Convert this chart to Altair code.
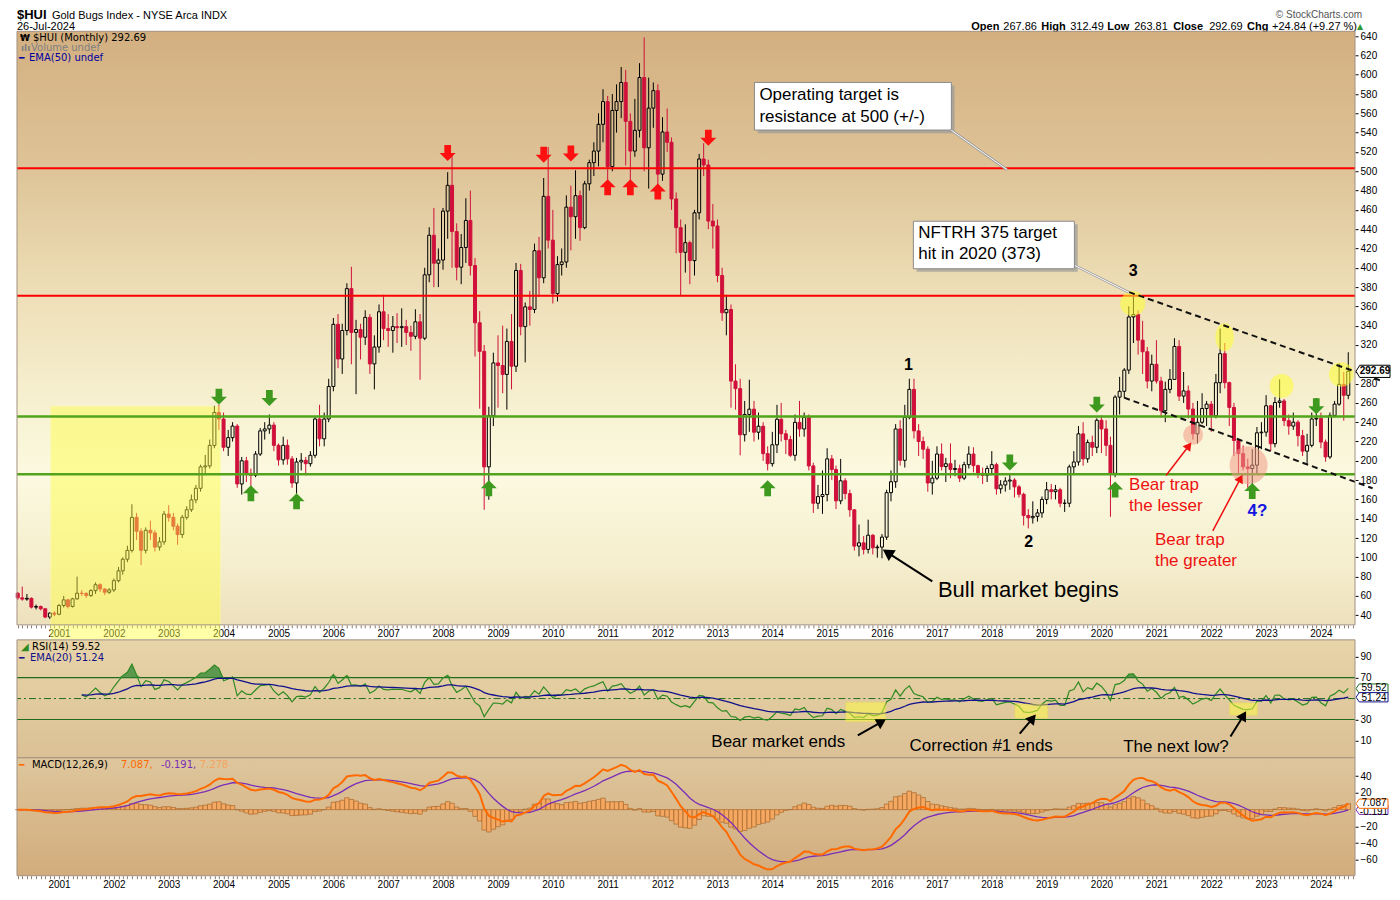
import math
import altair as alt
import numpy as np
import pandas as pd

# ---------------- monthly $HUI candles, Apr 2000 - Jul 2024 ----------------
closes = [
    58.0, 56.7, 57.5, 48.4, 49.0, 46.7, 38.1, 42.2, 41.0,                                   # 2000 Apr-Dec
    50.1, 55.9, 49.1, 57.0, 62.8, 62.5, 60.4, 65.5, 71.6, 67.2, 63.8, 66.2,                 # 2001
    75.8, 86.0, 98.0, 107.2, 141.4, 127.0, 107.2, 128.0, 125.3, 110.6, 116.0, 144.8,        # 2002
    141.4, 132.2, 123.6, 141.4, 149.3, 159.5, 171.5, 193.7, 194.7, 215.9, 250.1, 243.3,     # 2003
    214.0, 224.0, 236.0, 176.0, 200.0, 187.0, 185.0, 207.0, 231.0, 233.0, 237.0, 216.0,     # 2004
    201.0, 216.0, 202.0, 177.0, 198.8, 200.5, 197.0, 205.7, 243.3, 222.8, 243.3, 277.0,     # 2005
    341.4, 305.5, 335.0, 378.4, 333.0, 336.0, 328.0, 348.6, 300.4, 317.9, 354.4, 337.0,     # 2006
    335.0, 339.0, 338.0, 339.0, 333.0, 329.0, 344.0, 327.0, 392.7, 433.7, 404.7, 408.0,     # 2007
    458.7, 485.4, 437.5, 400.6, 421.0, 449.0, 402.3, 343.0, 313.4, 193.7, 246.7, 301.4,     # 2008
    298.7, 289.5, 323.7, 298.0, 397.2, 339.0, 359.5, 356.8, 417.7, 389.6, 474.0, 428.6,     # 2009
    373.2, 403.3, 406.0, 462.8, 452.9, 474.7, 441.6, 487.0, 508.9, 520.9, 548.6, 572.2,     # 2010
    504.8, 563.0, 572.2, 592.0, 551.7, 520.9, 542.4, 597.1, 524.3, 565.4, 583.5, 497.0,     # 2011
    540.7, 530.0, 471.3, 441.6, 416.0, 426.0, 407.4, 457.0, 512.7, 506.5, 448.4, 443.3,     # 2012
    392.0, 353.4, 356.8, 282.6, 274.8, 227.0, 248.0, 253.5, 229.6, 235.8, 207.4, 197.0,     # 2013
    216.6, 243.0, 228.0, 222.0, 205.7, 239.8, 233.0, 245.0, 194.7, 156.0, 162.9, 165.0,     # 2014
    202.0, 191.0, 158.5, 179.3, 166.0, 149.2, 111.6, 115.0, 108.2, 122.9, 109.9, 110.6,     # 2015
    120.9, 167.0, 178.3, 233.0, 200.5, 245.0, 274.0, 231.0, 220.0, 212.0, 177.0, 182.0,     # 2016
    207.0, 194.0, 197.0, 191.0, 192.0, 182.0, 196.0, 207.0, 195.0, 187.0, 185.0, 192.0,     # 2017
    196.0, 171.0, 175.0, 179.0, 180.0, 173.0, 165.3, 143.4, 141.0, 142.4, 146.0, 160.0,     # 2018
    170.0, 168.0, 170.0, 156.0, 156.0, 193.7, 198.8, 227.9, 202.0, 219.0, 214.0, 242.0,     # 2019
    233.0, 216.0, 187.0, 266.0, 272.0, 294.0, 349.0, 351.6, 325.0, 313.0, 282.6, 300.0,     # 2020
    282.6, 251.9, 274.0, 284.3, 318.5, 267.0, 272.4, 253.6, 227.9, 239.9, 254.2, 258.7,     # 2021
    246.7, 280.9, 311.0, 281.0, 255.3, 221.0, 207.4, 193.7, 192.0, 195.5, 229.0, 229.7,     # 2022
    257.0, 217.7, 260.4, 262.0, 241.6, 236.0, 240.0, 226.0, 210.0, 216.0, 243.3, 244.0,     # 2023
    219.4, 204.0, 247.0, 258.7, 279.2, 267.85, 292.69,                                      # 2024 Jan-Jul
]
highs = [
    64, 69.6, 62, 58.5, 51, 50, 47.5, 43, 44,
    51.5, 60, 57, 58, 80, 66, 64, 67, 74, 73, 68, 68,
    78, 90, 100, 112, 155, 146, 130, 131, 138, 128, 121, 148,
    154, 146, 135, 144, 153, 165, 175, 196, 206, 222, 257, 258,
    250, 232, 240, 238, 204, 204, 192, 210, 234, 240, 248, 240,
    218, 225, 222, 205, 203, 208, 204, 210, 246, 258, 250, 285,
    348, 352, 342, 384, 401, 346, 342, 356, 352, 330, 362, 372,
    352, 350, 353, 358, 346, 340, 357, 352, 400, 442, 462, 420,
    462, 499, 517, 446, 435, 472, 480, 410, 355, 320, 256, 312,
    330, 340, 337, 352, 405, 404, 364, 376, 425, 432, 493, 525,
    460, 412, 420, 475, 485, 501, 480, 490, 512, 530, 560, 585,
    578, 580, 590, 608, 605, 560, 575, 612, 638.6, 597, 592, 590,
    556, 565, 535, 478, 450, 445, 428, 460, 518, 529, 512, 466,
    450, 400, 372, 362, 300, 285, 262, 284, 262, 250, 240, 215,
    230, 258, 260, 232, 226, 248, 262, 250, 248, 198, 175, 190,
    213, 206, 195, 202, 182, 170, 150, 134, 122, 139, 124, 113,
    124, 170, 190, 238, 242, 258, 285, 285, 238, 225, 215, 200,
    215, 218, 203, 218, 201, 196, 199, 215, 214, 196, 193, 195,
    210, 198, 180, 183, 186, 182, 175, 167, 150, 158, 150, 163,
    178, 176, 175, 172, 160, 196, 210, 236, 240, 222, 226, 244,
    247, 242, 225, 268, 287, 296, 360, 373, 356, 345, 318, 310,
    325, 287, 282, 295, 327, 325, 292, 278, 260, 262, 270, 262,
    262, 290, 337, 322, 282, 260, 222, 216, 202, 212, 235, 240,
    268, 258, 266, 284.3, 264, 248, 250, 242, 232, 228, 250, 265,
    250, 222, 250, 262, 301, 292, 312.49,
]
lows = [
    56, 55, 55, 47, 46, 45, 37, 36, 39,
    40, 48, 47, 48, 56, 60, 58, 59, 62, 64, 61, 62,
    64, 74, 82, 95, 105, 118, 92, 104, 118, 106, 107, 113,
    137, 128, 113, 120, 139, 147, 156, 168, 185, 192, 213, 232,
    210, 205, 220, 172, 165, 178, 172, 183, 205, 222, 228, 210,
    195, 196, 196, 172, 166, 190, 185, 194, 203, 215, 215, 240,
    272, 296, 290, 330, 300, 269, 305, 320, 290, 274, 312, 325,
    318, 312, 322, 318, 320, 314, 326, 284, 325, 385, 380, 380,
    398, 430, 400, 387, 383, 405, 392, 308, 254, 149.3, 159.6, 236,
    255, 270, 253, 274, 292, 330, 302, 340, 353, 370, 384, 420,
    363, 365, 392, 400, 418, 430, 428, 440, 480, 495, 505, 530,
    491, 500, 540, 555, 506, 489, 515, 535, 500, 482, 545, 480,
    490, 520, 460, 415, 371, 395, 383, 392, 450, 495, 440, 420,
    385, 345, 330, 255, 253, 205.7, 220, 230, 220, 222, 200, 190,
    194, 208, 220, 207, 204, 200, 225, 225, 190, 146, 150, 145,
    158, 180, 150, 155, 160, 142, 107, 101, 103, 104, 103, 99.6,
    99, 118, 158, 172, 195, 193, 243, 223, 205, 202, 168, 165,
    180, 190, 178, 182, 184, 178, 180, 192, 188, 182, 176, 178,
    185, 165, 166, 168, 170, 162, 162, 133, 130, 135, 137, 141,
    155, 160, 160, 152, 147, 152, 186, 195, 195, 198, 205, 208,
    208, 205, 142, 183, 248, 265, 290, 322, 310, 290, 275, 272,
    280, 245, 240, 270, 284, 262, 260, 244, 222, 218, 238, 236,
    230, 244, 270, 275, 236, 205, 186, 190, 172, 176, 186, 212,
    225, 210, 214, 255, 236, 227, 232, 215, 205, 197, 214, 236,
    213, 199, 202, 245, 257, 241.6, 263.81,
]
first_open = 62.8
last_open = 267.86
assert len(closes) == len(highs) == len(lows) == 292

# header / legend values
hdr_open, hdr_high, hdr_low, hdr_close = "267.86", "312.49", "263.81", "292.69"
hdr_chg = "+24.84 (+9.27 %)"
rsi_last, rsi_ema_last = "59.52", "51.24"
macd_last, signal_last, hist_last = "7.087", "-0.191", "7.278"

# horizontal levels
resistance_levels = [503, 371]
support_levels = [246, 186]

# marker arrows (month, price)
green_down = [("2003-12-01", 266.3), ("2004-11-01", 265.0), ("2018-05-01", 198.3),
              ("2019-12-01", 258.2), ("2023-12-01", 256.6)]
green_up = [("2004-07-01", 166.3), ("2005-05-01", 158.0), ("2008-11-01", 171.5),
            ("2013-12-01", 171.5), ("2020-04-01", 170.2), ("2022-10-01", 168.6)]
red_down = [("2008-02-01", 519.0), ("2009-11-01", 517.0), ("2010-05-01", 518.5), ("2012-11-01", 534.8)]
red_up = [("2011-01-01", 483.3), ("2011-06-01", 483.3), ("2011-12-01", 479.0)]

# ---------------- helpers ----------------
def ydate(y):
    yr = int(math.floor(y))
    d = pd.Timestamp(year=yr, month=1, day=1) + pd.Timedelta(days=(y - yr) * 365.25)
    return d.strftime("%Y-%m-%d")

W, HM, HR, HD = 1339, 594, 118, 118
RED = "#D0103A"
FONT = "Liberation Sans"
one = pd.DataFrame({"k": [0]})

months = pd.date_range("2000-04-01", periods=len(closes), freq="MS").strftime("%Y-%m-%d")
opens = [first_open] + closes[:-1]
opens[-1] = last_open
cdf = pd.DataFrame({"date": months, "open": opens, "high": highs, "low": lows, "close": closes})
cdf["top"] = cdf[["open", "close"]].max(axis=1)
cdf["bot"] = cdf[["open", "close"]].min(axis=1)
cdf["up"] = cdf["close"] >= cdf["open"]

# indicators computed from the closes
c = pd.Series(closes, dtype=float)
delta = c.diff()
gain = delta.clip(lower=0)
loss = (-delta).clip(lower=0)
n = 14
ag = [np.nan] * len(c)
al = [np.nan] * len(c)
ag[n] = gain[1:n + 1].mean()
al[n] = loss[1:n + 1].mean()
for i in range(n + 1, len(c)):
    ag[i] = (ag[i - 1] * (n - 1) + gain[i]) / n
    al[i] = (al[i - 1] * (n - 1) + loss[i]) / n
rsi = 100 - 100 / (1 + np.array(ag) / np.array(al))
rsi_ema = pd.Series(rsi).ewm(span=20, adjust=False).mean()
ema12 = c.ewm(span=12, adjust=False).mean()
ema26 = c.ewm(span=26, adjust=False).mean()
macd = ema12 - ema26
signal = macd.ewm(span=9, adjust=False).mean()
hist = macd - signal
ind = pd.DataFrame({"date": months, "rsi": rsi, "rsi_ema": rsi_ema.values,
                    "macd": macd.values, "signal": signal.values, "hist": hist.values})
rsi_df = ind.dropna(subset=["rsi"]).reset_index(drop=True)

def grad(stops):
    return alt.LinearGradient(gradient="linear",
                              stops=[alt.GradientStop(color=col, offset=o) for o, col in stops],
                              x1=0, x2=0, y1=0, y2=1)

xs = alt.Scale(type="utc", nice=False, padding=0,
               domain=[alt.DateTime(year=2000, month=3, date=27, utc=True),
                       alt.DateTime(year=2024, month=8, date=15, utc=True)])
x_axis = alt.Axis(title=None, grid=False, domain=False, ticks=True, tickSize=3, tickColor="#8c7c6c",
                  tickCount={"interval": "month", "step": 1},
                  labelExpr="utcFormat(datum.value, '%m') == '01' ? utcFormat(datum.value, '%Y') : ''",
                  labelFont=FONT, labelFontSize=10, labelColor="#000000", labelPadding=1,
                  labelOverlap=False, labelFlush=False, labelBound=False)

def XM(f):
    return alt.X(f, type="temporal", scale=xs, axis=x_axis)

def XN(f):
    return alt.X(f, type="temporal", scale=xs, axis=None)

ys_main = alt.Scale(domain=[30, 645], nice=False, zero=False, padding=0)
y_axis_main = alt.Axis(title=None, orient="right", values=[v for v in range(40, 641, 20) if v != 300],
                       grid=False, domain=False, tickSize=3, tickColor="#000000", labelFont=FONT,
                       labelFontSize=10, labelColor="#000000", labelPadding=2)

def YM(f):
    return alt.Y(f, type="quantitative", scale=ys_main, axis=y_axis_main)

DOWN = "M-0.42,-1 L0.42,-1 L0.42,0 L1,0 L0,1 L-1,0 L-0.42,0 Z"
UP = "M-0.42,1 L0.42,1 L0.42,0 L1,0 L0,-1 L-1,0 L-0.42,0 Z"
TAG = "M-1,0 L-0.78,-0.36 L1,-0.36 L1,0.36 L-0.78,0.36 Z"
TAG_S = "M-1,0 L-0.8,-0.29 L1,-0.29 L1,0.29 L-0.8,0.29 Z"
ELLIPSE = "M0,-1 A0.66,1 0 1,1 0,1 A0.66,1 0 1,1 0,-1 Z"

def ptxt(txt, x, y, size=10, color="#000000", weight="normal", align="left", font=FONT):
    return alt.Chart(one).mark_text(text=txt, font=font, fontSize=size, color=color, fontWeight=weight,
                                    align=align, baseline="middle").encode(x=alt.value(x), y=alt.value(y))

def arrow_layers(pts, x_fn, y_fn, color, width, head):
    d = pd.DataFrame(pts, columns=["x0", "y0", "x1", "y1", "ang"])
    d["x0"] = d["x0"].map(ydate)
    d["x1"] = d["x1"].map(ydate)
    line = alt.Chart(d).mark_rule(color=color, strokeWidth=width).encode(
        x=x_fn("x0"), x2="x1", y=y_fn("y0"), y2="y1")
    tip = alt.Chart(d).mark_point(shape="triangle-up", filled=True, color=color, size=head, opacity=1).encode(
        x=x_fn("x1"), y=y_fn("y1"), angle=alt.Angle("ang:Q", scale=None))
    return [line, tip]

# ---------------- main price panel ----------------
L = []
L.append(alt.Chart(one).mark_rect(color=grad([(0, "#D3AF80"), (0.235, "#DEC498"), (0.447, "#EEDFB8"),
                                               (0.653, "#F8F3D4"), (0.75, "#FBF9E0"), (0.887, "#F6EFCF"),
                                               (1, "#EDE0BC")]), strokeWidth=0).encode(
    x=alt.value(0), x2=alt.value(W), y=alt.value(0), y2=alt.value(HM)))

wick_col = alt.condition("datum.up", alt.value("#000000"), alt.value(RED))
base = alt.Chart(cdf)
L.append(base.mark_rule(strokeWidth=1).encode(x=XM("date"), y=YM("top"), y2="high", color=wick_col))
L.append(base.mark_rule(strokeWidth=1).encode(x=XM("date"), y=YM("low"), y2="bot", color=wick_col))
L.append(base.mark_bar(width=3, strokeWidth=1).encode(
    x=XM("date"), y=YM("open"), y2="close",
    fill=alt.condition("datum.up", alt.value("transparent"), alt.value(RED)),
    stroke=alt.condition("datum.up", alt.value("#000000"), alt.value(RED))))

# yellow 2001-2003 box
ybox = pd.DataFrame({"x0": [ydate(2000.85)], "x1": [ydate(2003.947)], "p0": [256.6], "p1": [14.8]})
L.append(alt.Chart(ybox).mark_rect(color="#FFFF40", opacity=0.45, stroke="#FFFF90", strokeWidth=1).encode(
    x=XM("x0"), x2="x1", y=YM("p0"), y2="p1"))

# horizontal levels
L.append(alt.Chart(pd.DataFrame({"p": resistance_levels})).mark_rule(color="#FF0000", strokeWidth=2).encode(y=YM("p")))
L.append(alt.Chart(pd.DataFrame({"p": support_levels})).mark_rule(color="#52A41C", strokeWidth=2.5).encode(y=YM("p")))

# highlight circles
circ = pd.DataFrame({"d": [ydate(2020.571), ydate(2023.283), ydate(2024.370)], "p": [363, 277.5, 289.4],
                     "s": [625, 576, 600]})
L.append(alt.Chart(circ).mark_point(shape="circle", filled=True, color="#FFFF30", opacity=0.55).encode(
    x=XM("d"), y=YM("p"), size=alt.Size("s:Q", scale=None)))
L.append(alt.Chart(pd.DataFrame({"d": [ydate(2022.245)], "p": [328]})).mark_point(
    shape=ELLIPSE, filled=True, color="#FFFF30", opacity=0.55, size=784).encode(x=XM("d"), y=YM("p")))
pink = pd.DataFrame({"d": [ydate(2021.670), ydate(2022.679)], "p": [227, 195.4], "s": [400, 1444]})
L.append(alt.Chart(pink).mark_point(shape="circle", filled=True, color="#F29A86", opacity=0.55).encode(
    x=XM("d"), y=YM("p"), size=alt.Size("s:Q", scale=None)))

# dashed trend channel
tl = pd.DataFrame({"x0": [ydate(2020.505), ydate(2020.415)], "x1": [ydate(2025.125), ydate(2024.944)],
                   "p0": [374.8, 265.4], "p1": [282.5, 171.5]})
L.append(alt.Chart(tl).mark_rule(color="#111111", strokeWidth=2, strokeDash=[6, 4]).encode(
    x=XM("x0"), x2="x1", y=YM("p0"), y2="p1"))

# arrows
for pts, shp, col in [(green_down, DOWN, "#3E9A1E"), (green_up, UP, "#3E9A1E"),
                      (red_down, DOWN, "#FF1010"), (red_up, UP, "#FF1010")]:
    d = pd.DataFrame(pts, columns=["d", "p"])
    L.append(alt.Chart(d).mark_point(shape=shp, filled=True, color=col, opacity=1, size=256).encode(
        x=XM("d"), y=YM("p")))

# callout boxes
boxes = [(2013.676, 2017.263, 592.0, 542.7), (2016.574, 2019.509, 448.2, 399.0)]
for (x0, x1, p0, p1) in boxes:
    sh = pd.DataFrame({"x0": [ydate(x0 + 0.06)], "x1": [ydate(x1 + 0.06)], "p0": [p0 - 3.2], "p1": [p1 - 3.2]})
    L.append(alt.Chart(sh).mark_rect(color="#9A9A9A", opacity=0.7).encode(x=XM("x0"), x2="x1", y=YM("p0"), y2="p1"))
for (x0, y0, x1, y1) in [(2017.154, 546.8, 2018.277, 501.7), (2019.415, 405.2, 2020.502, 374.4)]:
    pl = pd.DataFrame({"x0": [ydate(x0)], "x1": [ydate(x1)], "p0": [y0], "p1": [y1]})
    L.append(alt.Chart(pl).mark_rule(color="#9A9A9A", strokeWidth=2.5).encode(x=XM("x0"), x2="x1", y=YM("p0"), y2="p1"))
    L.append(alt.Chart(pl).mark_rule(color="#FFFFFF", strokeWidth=1).encode(x=XM("x0"), x2="x1", y=YM("p0"), y2="p1"))
for (x0, x1, p0, p1) in boxes:
    bx = pd.DataFrame({"x0": [ydate(x0)], "x1": [ydate(x1)], "p0": [p0], "p1": [p1]})
    L.append(alt.Chart(bx).mark_rect(fill="#FFFFFF", stroke="#8A8A8A", strokeWidth=1).encode(
        x=XM("x0"), x2="x1", y=YM("p0"), y2="p1"))

box_text = pd.DataFrame({
    "d": [ydate(2013.766), ydate(2013.766), ydate(2016.665), ydate(2016.665)],
    "p": [578.6, 556.0, 436.0, 414.4],
    "t": ["Operating target is", "resistance at 500 (+/-)", "NFTRH 375 target", "hit in 2020 (373)"]})
L.append(alt.Chart(box_text).mark_text(font=FONT, fontSize=17, align="left", baseline="middle", color="#000000").encode(
    x=XM("d"), y=YM("p"), text="t:N"))

wave = pd.DataFrame({"d": [ydate(2020.578), ydate(2016.484), ydate(2018.676)], "p": [397, 299.5, 116],
                     "t": ["3", "1", "2"]})
L.append(alt.Chart(wave).mark_text(font=FONT, fontSize=16, fontWeight="bold", color="#000000").encode(
    x=XM("d"), y=YM("p"), text="t:N"))

L.append(alt.Chart(pd.DataFrame({"d": [ydate(2018.667)], "p": [66.3], "t": ["Bull market begins"]})).mark_text(
    font=FONT, fontSize=22, color="#000000").encode(x=XM("d"), y=YM("p"), text="t:N"))
L += arrow_layers([(2016.918, 75.1, 2016.103, 104.9, 303)], XM, YM, "#000000", 2, 170)

red_text = pd.DataFrame({"d": [ydate(2020.505), ydate(2020.505), ydate(2020.976), ydate(2020.976)],
                         "p": [174.6, 153.0, 118.2, 96.6],
                         "t": ["Bear trap", "the lesser", "Bear trap", "the greater"]})
L.append(alt.Chart(red_text).mark_text(font=FONT, fontSize=17, align="left", color="#EE1111").encode(
    x=XM("d"), y=YM("p"), text="t:N"))
L += arrow_layers([(2021.176, 184.8, 2021.592, 215.6, 37), (2022.029, 127.4, 2022.536, 181.7, 28)],
                  XM, YM, "#EE1111", 1.5, 90)
L.append(alt.Chart(pd.DataFrame({"d": [ydate(2022.842)], "p": [147.9], "t": ["4?"]})).mark_text(
    font=FONT, fontSize=17, fontWeight="bold", color="#1515E0").encode(x=XM("d"), y=YM("p"), text="t:N"))

# legend + header + price tag
L.append(ptxt("\u20a9", 3, 7, size=9, weight="bold", font="DejaVu Sans"))
L.append(ptxt("$HUI (Monthly) " + hdr_close, 16, 7, size=10, font="DejaVu Sans"))
L.append(ptxt("\u0131l\u0131", 4, 17, size=9, color="#808080", weight="bold", font="DejaVu Sans"))
L.append(ptxt("Volume undef", 14, 17, size=10, color="#808080", font="DejaVu Sans"))
L.append(ptxt("\u2501", 2, 27, size=9, color="#0000A0", font="DejaVu Sans"))
L.append(ptxt("EMA(50) undef", 12, 27, size=10, color="#0000A0", font="DejaVu Sans"))

L.append(ptxt("$HUI", 0, -16, size=13, weight="bold"))
L.append(ptxt("Gold Bugs Index - NYSE Arca INDX", 35, -15.5, size=11))
L.append(ptxt("26-Jul-2024", 0, -4, size=11))
L.append(ptxt("\u00a9 StockCharts.com", 1346, -16, size=10, color="#555555", align="right"))
for txt, xx, bold in [("Open", 955, True), (hdr_open, 987, False), ("High", 1025, True), (hdr_high, 1054, False),
                      ("Low", 1091, True), (hdr_low, 1118, False), ("Close", 1157, True), (hdr_close, 1193, False),
                      ("Chg", 1231, True), (hdr_chg, 1256, False)]:
    L.append(ptxt(txt, xx, -4, size=11, weight="bold" if bold else "normal"))
L.append(ptxt("\u25b2", 1341, -4, size=8, color="#2E9A2E", font="DejaVu Sans"))

tagd = pd.DataFrame({"v": [float(hdr_close)], "t": [hdr_close]})
L.append(alt.Chart(tagd).mark_point(shape=TAG, size=1156, filled=True, fill="#FFFFFF", stroke="#000000",
                                    strokeWidth=1, opacity=1).encode(x=alt.value(W + 18), y=YM("v")))
L.append(alt.Chart(tagd).mark_text(font=FONT, fontSize=10, fontWeight="bold", color="#000000").encode(
    x=alt.value(W + 20), y=YM("v"), text="t:N"))
L.append(alt.Chart(one).mark_rect(fill="transparent", stroke="#A39282", strokeWidth=1).encode(
    x=alt.value(0), x2=alt.value(W), y=alt.value(0), y2=alt.value(HM)))

main = alt.layer(*L).properties(width=W, height=HM)

# ---------------- RSI panel ----------------
ys_r = alt.Scale(domain=[-6.5, 106], nice=False, zero=False, padding=0)
y_axis_r = alt.Axis(title=None, orient="right", values=[10, 30, 70, 90], grid=False, domain=False, tickSize=3,
                    tickColor="#000000", labelFont=FONT, labelFontSize=10, labelColor="#000000", labelPadding=2)

def YR(f):
    return alt.Y(f, type="quantitative", scale=ys_r, axis=y_axis_r)

R = []
R.append(alt.Chart(one).mark_rect(color=grad([(0, "#E7D4A8"), (1, "#DBC195")]), strokeWidth=0).encode(
    x=alt.value(0), x2=alt.value(W), y=alt.value(0), y2=alt.value(HR)))
R.append(alt.Chart(pd.DataFrame({"v": [70, 30]})).mark_rule(color="#1E6B1E", strokeWidth=1.2).encode(y=YR("v")))
R.append(alt.Chart(pd.DataFrame({"v": [50]})).mark_rule(color="#1E6B1E", strokeWidth=1, strokeDash=[7, 3, 2, 3]).encode(y=YR("v")))
R.append(alt.Chart(rsi_df).transform_calculate(top="max(datum.rsi, 70)", base="70").mark_area(
    color="#3A8A3A", opacity=0.8).encode(x=XN("date"), y=YR("top:Q"), y2="base:Q"))
R.append(alt.Chart(rsi_df).mark_line(color="#2F8A22", strokeWidth=1.2).encode(x=XN("date"), y=YR("rsi")))
R.append(alt.Chart(rsi_df).mark_line(color="#10108C", strokeWidth=1.3).encode(x=XN("date"), y=YR("rsi_ema")))

hl = pd.DataFrame({"x0": [ydate(2015.34), ydate(2018.422), ydate(2022.335)],
                   "x1": [ydate(2016.07), ydate(2019.02), ydate(2022.842)],
                   "p0": [46.4, 44.9, 45.8], "p1": [27.8, 31.3, 34.1]})
R.append(alt.Chart(hl).mark_rect(color="#FFFF40", opacity=0.5, stroke="#F0E030", strokeWidth=1,
                                 strokeDash=[3, 2]).encode(x=XN("x0"), x2="x1", y=YR("p0"), y2="p1"))
R += arrow_layers([(2015.56, 14.8, 2015.995, 27.8, 60), (2018.51, 16.6, 2018.745, 31.1, 40),
                   (2022.353, 13.8, 2022.589, 33.9, 31)], XN, YR, "#000000", 2, 130)
rt = pd.DataFrame({"d": [ydate(2014.111), ydate(2017.806), ydate(2021.357)], "p": [8.2, 4.5, 3.8],
                   "t": ["Bear market ends", "Correction #1 ends", "The next low?"]})
R.append(alt.Chart(rt).mark_text(font=FONT, fontSize=17, color="#000000").encode(x=XN("d"), y=YR("p"), text="t:N"))

R.append(ptxt("\u25e2", 4, 7.5, size=10, color="#2F8A22", font="DejaVu Sans"))
R.append(ptxt("RSI(14) " + rsi_last, 15, 7.5, size=10, font="DejaVu Sans"))
R.append(ptxt("\u2501", 2, 18.5, size=9, color="#10108C", font="DejaVu Sans"))
R.append(ptxt("EMA(20) " + rsi_ema_last, 13, 18.5, size=10, color="#10108C", font="DejaVu Sans"))
for val, lab, col, dy in [(float(rsi_last), rsi_last, "#1E6B1E", -0.5), (float(rsi_ema_last), rsi_ema_last, "#10108C", 0.5)]:
    td = pd.DataFrame({"v": [val], "t": [lab]})
    R.append(alt.Chart(td).mark_point(shape=TAG_S, size=1024, filled=True, fill="#FFFFFF", stroke=col,
                                      strokeWidth=1, opacity=1).encode(x=alt.value(W + 17), y=YR("v")))
    R.append(alt.Chart(td).mark_text(font=FONT, fontSize=10, color="#000000", dy=dy).encode(
        x=alt.value(W + 19), y=YR("v"), text="t:N"))
R.append(alt.Chart(one).mark_rect(fill="transparent", stroke="#A39282", strokeWidth=1).encode(
    x=alt.value(0), x2=alt.value(W), y=alt.value(0), y2=alt.value(HR)))
rsi_chart = alt.layer(*R).properties(width=W, height=HR)

# ---------------- MACD panel ----------------
ys_d = alt.Scale(domain=[-79, 62], nice=False, zero=False, padding=0)
y_axis_d = alt.Axis(title=None, orient="right", values=[40, 20, -20, -40, -60], grid=False, domain=False,
                    tickSize=3, tickColor="#000000", labelFont=FONT, labelFontSize=10, labelColor="#000000",
                    labelPadding=2)

def YD(f):
    return alt.Y(f, type="quantitative", scale=ys_d, axis=y_axis_d)

D = []
D.append(alt.Chart(one).mark_rect(color=grad([(0, "#DEC69C"), (1, "#D2AC7C")]), strokeWidth=0).encode(
    x=alt.value(0), x2=alt.value(W), y=alt.value(0), y2=alt.value(HD)))
D.append(alt.Chart(ind).transform_calculate(zero="0").mark_bar(width=4.5, fill="#F5A862", stroke="#A8682C",
                                                               strokeWidth=0.7).encode(
    x=XM("date"), y=YD("hist:Q"), y2="zero:Q"))
D.append(alt.Chart(ind).mark_line(color="#7A2DB8", strokeWidth=1.3).encode(x=XM("date"), y=YD("signal")))
D.append(alt.Chart(ind).mark_line(color="#FF6A00", strokeWidth=2).encode(x=XM("date"), y=YD("macd")))
D.append(ptxt("\u2501", 2, 7.5, size=9, color="#FF6A00", font="DejaVu Sans"))
D.append(ptxt("MACD(12,26,9)", 15, 7.5, size=10, font="DejaVu Sans"))
D.append(ptxt(macd_last + ",", 104, 7.5, size=10, color="#FF6A00", font="DejaVu Sans"))
D.append(ptxt(signal_last + ",", 144, 7.5, size=10, color="#7A2DB8", font="DejaVu Sans"))
D.append(ptxt(hist_last, 183, 7.5, size=10, color="#F4A460", font="DejaVu Sans"))
for val, lab, col, dy in [(float(signal_last), signal_last, "#7A2DB8", 2.5), (float(macd_last), macd_last, "#FF6A00", -1)]:
    td = pd.DataFrame({"v": [val], "t": [lab]})
    D.append(alt.Chart(td).mark_point(shape=TAG_S, size=1024, filled=True, fill="#FFFFFF", stroke=col,
                                      strokeWidth=1, opacity=1).encode(x=alt.value(W + 17), y=YD("v")))
    D.append(alt.Chart(td).mark_text(font=FONT, fontSize=10, color="#000000", dy=dy).encode(
        x=alt.value(W + 19), y=YD("v"), text="t:N"))
D.append(alt.Chart(one).mark_rect(fill="transparent", stroke="#A39282", strokeWidth=1).encode(
    x=alt.value(0), x2=alt.value(W), y=alt.value(0), y2=alt.value(HD)))
macd_chart = alt.layer(*D).properties(width=W, height=HD)

lower = alt.vconcat(rsi_chart, macd_chart, spacing=0, bounds="flush")
chart = alt.vconcat(main, lower, spacing=15, bounds="flush").properties(
    padding={"left": 5, "top": 1, "right": 0, "bottom": 0}, background="#FFFFFF"
).configure_view(strokeWidth=0)

chart.save("out.html", embed_options={"renderer": "svg", "actions": False})
